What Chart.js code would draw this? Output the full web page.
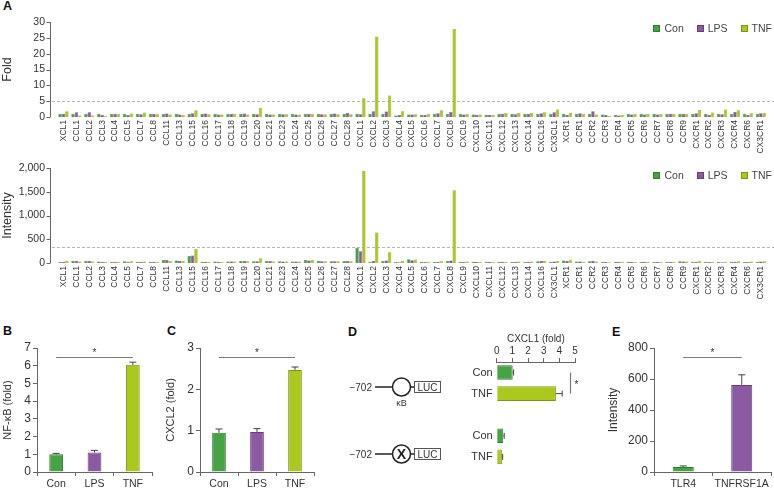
<!DOCTYPE html>
<html>
<head>
<meta charset="utf-8">
<script src="https://cdn.jsdelivr.net/npm/chart.js@4.4.1/dist/chart.umd.min.js"></script>
<style>
  html, body { margin: 0; padding: 0; background: #fff; }
  body { width: 774px; height: 489px; position: relative; overflow: hidden; font-family: "Liberation Sans", Arial, sans-serif; }
  canvas { position: absolute; }
  .panel { position: absolute; font-weight: bold; font-size: 12.5px; line-height: 12px; color: #111; }
  .legend { position: absolute; right: 2px; display: flex; align-items: center; font-size: 10.5px; line-height: 12px; color: #444; }
  .legend .item { display: flex; align-items: center; margin-left: 13px; }
  .legend .box { width: 7px; height: 7px; margin-right: 4px; box-sizing: border-box; border: 1px solid; }
  svg { position: absolute; left: 0; top: 0; }
</style>
</head>
<body>

<div class="panel" style="left:3px;top:0px">A</div>
<div class="panel" style="left:3px;top:325px">B</div>
<div class="panel" style="left:167px;top:325px">C</div>
<div class="panel" style="left:348px;top:326px">D</div>
<div class="panel" style="left:612px;top:326px">E</div>

<canvas id="foldChart" width="774" height="160" style="left:0;top:0"></canvas>
<canvas id="intensityChart" width="774" height="172" style="left:0;top:140px"></canvas>
<canvas id="nfkbChart" width="160" height="169" style="left:0;top:320px"></canvas>
<canvas id="cxcl2Chart" width="160" height="169" style="left:163px;top:320px"></canvas>
<canvas id="lucChart" width="125" height="148" style="left:460px;top:330px"></canvas>
<canvas id="receptorChart" width="169" height="169" style="left:605px;top:320px"></canvas>

<div class="legend" id="legendTop" style="top:22px"></div>
<div class="legend" id="legendBottom" style="top:169px"></div>

<svg width="774" height="489" font-family="Liberation Sans, Arial, sans-serif">
  <g stroke="#222" stroke-width="1.5" fill="#fff">
    <line x1="375" y1="387" x2="392" y2="387"/>
    <circle cx="401.5" cy="387" r="9"/>
    <line x1="410.5" y1="387" x2="414" y2="387"/>
    <line x1="375" y1="454" x2="392" y2="454"/>
    <circle cx="401.5" cy="454" r="9"/>
    <line x1="410.5" y1="454" x2="414" y2="454"/>
  </g>
  <g stroke="#555" stroke-width="1" fill="#fff">
    <rect x="414.5" y="381.5" width="26" height="11"/>
    <rect x="414.5" y="448.5" width="26" height="11"/>
  </g>
  <g fill="#333" font-size="10">
    <text x="372" y="390.5" text-anchor="end">−702</text>
    <text x="372" y="457.5" text-anchor="end">−702</text>
    <text x="427.5" y="391" text-anchor="middle">LUC</text>
    <text x="427.5" y="458" text-anchor="middle">LUC</text>
    <text x="401.5" y="406" text-anchor="middle" font-size="9">κB</text>
    <text x="401.5" y="459" text-anchor="middle" font-size="14" font-weight="bold" fill="#222">X</text>
  </g>
</svg>

<script>
// chemokine array targets
const GENES = ['XCL1', 'CCL1', 'CCL2', 'CCL3', 'CCL4', 'CCL5', 'CCL7', 'CCL8', 'CCL11', 'CCL13',
  'CCL15', 'CCL16', 'CCL17', 'CCL18', 'CCL19', 'CCL20', 'CCL21', 'CCL23', 'CCL24', 'CCL25',
  'CCL26', 'CCL27', 'CCL28', 'CXCL1', 'CXCL2', 'CXCL3', 'CXCL4', 'CXCL5', 'CXCL6', 'CXCL7',
  'CXCL8', 'CXCL9', 'CXCL10', 'CXCL11', 'CXCL12', 'CXCL13', 'CXCL14', 'CXCL16', 'CX3CL1', 'XCR1',
  'CCR1', 'CCR2', 'CCR3', 'CCR4', 'CCR5', 'CCR6', 'CCR7', 'CCR8', 'CCR9', 'CXCR1',
  'CXCR2', 'CXCR3', 'CXCR4', 'CXCR6', 'CX3CR1'];

const FOLD_CON = [1, 1, 1, 1, 1, 1, 1, 1, 1, 1,
  1, 1, 1, 1, 1, 1, 1, 1, 1, 1,
  1, 1, 1, 1, 1, 1, 0.5, 0.8, 0.7, 1,
  1, 1, 0.8, 0.7, 1, 1, 1, 1, 1, 1,
  1, 1, 0.8, 0.6, 1, 1, 1, 1, 1, 1,
  1, 1, 1, 1, 1];
const FOLD_LPS = [1, 1.5, 1.5, 0.6, 1, 0.6, 0.9, 1, 1.1, 0.8,
  1.2, 1.1, 0.8, 1, 1.1, 0.9, 0.8, 0.9, 0.8, 1,
  0.9, 1.1, 1.3, 0.9, 1.8, 1.7, 0.6, 0.8, 0.6, 1.2,
  1.6, 0.8, 0.7, 0.7, 1, 0.9, 1, 1.2, 1.5, 0.7,
  1.2, 1.8, 0.6, 0.5, 0.8, 0.8, 0.8, 1, 1, 1.2,
  0.7, 0.9, 1.6, 0.6, 1.2];
const FOLD_TNF = [1.8, 0.5, 0.5, 0.4, 1, 1.1, 1.4, 1, 0.8, 0.7,
  2.1, 0.9, 0.8, 1, 0.8, 2.9, 0.8, 0.9, 0.8, 1,
  0.9, 0.9, 0.9, 5.9, 25.4, 6.8, 1.8, 0.9, 1, 2.1,
  27.8, 1, 0.8, 0.7, 1.3, 1.3, 1.3, 1.5, 2.4, 1.3,
  1, 0.8, 0.3, 0.6, 1, 1, 1, 1, 1, 2.2,
  1.4, 2.4, 2.1, 1.2, 1.3];

const INT_CON = [25, 45, 45, 30, 25, 35, 25, 25, 65, 55,
  145, 25, 30, 30, 40, 35, 45, 35, 30, 65,
  45, 35, 40, 320, 25, 40, 20, 80, 20, 25,
  40, 25, 25, 25, 25, 25, 25, 35, 25, 55,
  30, 35, 25, 25, 25, 20, 25, 25, 35, 25,
  25, 20, 25, 20, 25];
const INT_LPS = [20, 45, 50, 25, 25, 25, 25, 25, 65, 50,
  160, 25, 25, 30, 40, 35, 40, 30, 30, 55,
  35, 35, 40, 245, 40, 55, 15, 60, 20, 25,
  55, 20, 20, 25, 25, 25, 25, 40, 30, 45,
  30, 45, 20, 25, 20, 20, 20, 25, 30, 25,
  20, 15, 25, 20, 30];
const INT_TNF = [50, 30, 30, 20, 25, 35, 30, 25, 50, 40,
  300, 25, 25, 30, 35, 100, 30, 30, 30, 65,
  35, 35, 35, 1940, 640, 225, 40, 75, 25, 35,
  1530, 30, 25, 25, 25, 30, 30, 45, 40, 70,
  25, 30, 15, 25, 25, 20, 25, 25, 30, 45,
  25, 25, 35, 30, 35];

const FOLD_CUTOFF = 5;
const INT_CUTOFF = 337;

const GROUPS = ['Con', 'LPS', 'TNF'];
const NFKB = [1.0, 1.1, 6.05];
const NFKB_ERR = [0.05, 0.12, 0.15];
const NFKB_SIG = 6.47;

const CXCL2_FOLD = [0.95, 0.97, 2.47];
const CXCL2_ERR = [0.09, 0.08, 0.07];
const CXCL2_SIG = 2.79;

const LUC_LABELS = ['Con', 'TNF', '', 'Con', 'TNF'];
const LUC_FOLD = [1.02, 3.78, null, 0.42, 0.33];
const LUC_ERR = [0.06, 0.4, null, 0.06, 0.05];
const LUC_SIG = 4.7;

const RECEPTORS = ['TLR4', 'TNFRSF1A'];
const RECEPTOR_INT = [33, 562];
const RECEPTOR_ERR = [6, 65];
const RECEPTOR_SIG = 741;

const CON = '#46a343', CON_EDGE = '#2f7d2d';
const LPS = '#8c5aa3', LPS_EDGE = '#673f7d';
const TNF = '#abc81f', TNF_EDGE = '#7e9614';
const AXIS = '#666';
const TEXT = '#333';

Chart.defaults.font.family = '"Liberation Sans", Arial, sans-serif';
Chart.defaults.color = TEXT;
Chart.defaults.animation = false;
Chart.defaults.plugins.legend.display = false;
Chart.defaults.plugins.tooltip.enabled = false;

// legends for panel A
function buildLegend(id) {
  const el = document.getElementById(id);
  const cols = [[CON, CON_EDGE], [LPS, LPS_EDGE], [TNF, TNF_EDGE]];
  GROUPS.forEach((g, i) => {
    const item = document.createElement('div');
    item.className = 'item';
    item.innerHTML = `<span class="box" style="background:${cols[i][0]};border-color:${cols[i][1]}"></span>${g}`;
    el.appendChild(item);
  });
}
buildLegend('legendTop');
buildLegend('legendBottom');

const errorBars = {
  id: 'errorBars',
  afterDatasetsDraw(chart) {
    const ctx = chart.ctx;
    const horiz = chart.options.indexAxis === 'y';
    const vs = horiz ? chart.scales.x : chart.scales.y;
    chart.data.datasets.forEach((ds, di) => {
      if (!ds.errors) return;
      chart.getDatasetMeta(di).data.forEach((bar, i) => {
        const v = ds.data[i], e = ds.errors[i];
        if (v == null || e == null) return;
        const end = vs.getPixelForValue(v + e);
        ctx.save();
        ctx.strokeStyle = '#444';
        ctx.lineWidth = 1;
        ctx.beginPath();
        if (horiz) {
          ctx.moveTo(bar.x, bar.y); ctx.lineTo(end, bar.y);
          ctx.moveTo(end, bar.y - 3); ctx.lineTo(end, bar.y + 3);
        } else {
          ctx.moveTo(bar.x, bar.y); ctx.lineTo(bar.x, end);
          ctx.moveTo(bar.x - 3.5, end); ctx.lineTo(bar.x + 3.5, end);
        }
        ctx.stroke();
        ctx.restore();
      });
    });
  }
};

const sigLine = {
  id: 'sigLine',
  afterDatasetsDraw(chart, args, opts) {
    if (!opts || opts.at == null) return;
    const ctx = chart.ctx;
    const horiz = chart.options.indexAxis === 'y';
    const cat = horiz ? chart.scales.y : chart.scales.x;
    const val = horiz ? chart.scales.x : chart.scales.y;
    const a = cat.getPixelForValue(opts.from);
    const b = cat.getPixelForValue(opts.to);
    const p = Math.round(val.getPixelForValue(opts.at)) + 0.5;
    ctx.save();
    ctx.strokeStyle = '#777';
    ctx.lineWidth = 1.2;
    ctx.beginPath();
    ctx.fillStyle = TEXT;
    ctx.font = '10px "Liberation Sans", Arial';
    if (horiz) {
      ctx.moveTo(p, a); ctx.lineTo(p, b);
      ctx.stroke();
      ctx.textAlign = 'left'; ctx.textBaseline = 'middle';
      ctx.fillText('*', p + 4, (a + b) / 2 + 2);
    } else {
      ctx.moveTo(a, p); ctx.lineTo(b, p);
      ctx.stroke();
      ctx.textAlign = 'center'; ctx.textBaseline = 'bottom';
      ctx.fillText('*', (a + b) / 2, p + 1);
    }
    ctx.restore();
  }
};

const cutoffLine = {
  id: 'cutoffLine',
  beforeDatasetsDraw(chart, args, opts) {
    if (!opts || opts.value == null) return;
    const ctx = chart.ctx;
    const y = Math.round(chart.scales.y.getPixelForValue(opts.value)) + 0.5;
    ctx.save();
    ctx.strokeStyle = '#b5b5b5';
    ctx.lineWidth = 1;
    ctx.setLineDash([3, 2]);
    ctx.beginPath();
    ctx.moveTo(chart.chartArea.left - opts.gap + 2, y);
    ctx.lineTo(chart.width, y);
    ctx.stroke();
    ctx.restore();
  }
};

// y axis drawn a few px left of the first category
const axisGap = {
  id: 'axisGap',
  afterDraw(chart, args, opts) {
    if (!opts || !opts.gap) return;
    const ctx = chart.ctx, ys = chart.scales.y;
    const x = Math.round(chart.chartArea.left - opts.gap) + 0.5;
    ctx.save();
    ctx.strokeStyle = AXIS;
    ctx.lineWidth = 1;
    ctx.beginPath();
    ctx.moveTo(x, ys.getPixelForValue(ys.max));
    ctx.lineTo(x, ys.getPixelForValue(0));
    ys.ticks.forEach(t => {
      const py = Math.round(ys.getPixelForValue(t.value)) + 0.5;
      ctx.moveTo(x - 4, py);
      ctx.lineTo(x, py);
    });
    ctx.stroke();
    ctx.restore();
  }
};

function profileChart(id, con, lps, tnf, yMax, yStep, cutoff, title, padTop, xHeight, fmt) {
  const bar = (label, data, bg, edge) => ({
    label, data, backgroundColor: bg, borderColor: edge, borderWidth: 0.5,
    categoryPercentage: 0.78, barPercentage: 1
  });
  return new Chart(document.getElementById(id), {
    type: 'bar',
    data: {
      labels: GENES,
      datasets: [
        bar('Con', con, CON, CON_EDGE),
        bar('LPS', lps, LPS, LPS_EDGE),
        bar('TNF', tnf, TNF, TNF_EDGE)
      ]
    },
    options: {
      responsive: false,
      layout: { padding: { top: padTop, right: 1, left: 0, bottom: 0 } },
      plugins: {
        cutoffLine: { value: cutoff, gap: 7 },
        axisGap: { gap: 7 }
      },
      scales: {
        x: {
          grid: { display: false, drawTicks: false },
          border: { display: false },
          ticks: { autoSkip: false, minRotation: 90, maxRotation: 90, padding: 3, font: { size: 8.5 }, color: TEXT },
          afterFit: s => { s.height = xHeight; }
        },
        y: {
          min: 0, max: yMax,
          grid: { display: false, drawTicks: false },
          border: { display: false },
          ticks: { stepSize: yStep, padding: 12, font: { size: 10.5 }, color: TEXT, callback: fmt },
          title: { display: true, text: title, font: { size: 12.5 }, color: TEXT, padding: 0 },
          afterFit: s => { s.width = 57; }
        }
      }
    },
    plugins: [cutoffLine, axisGap]
  });
}

profileChart('foldChart', FOLD_CON, FOLD_LPS, FOLD_TNF, 30, 5, FOLD_CUTOFF, 'Fold', 22, 43, v => v);
profileChart('intensityChart', INT_CON, INT_LPS, INT_TNF, 2000, 500, INT_CUTOFF, 'Intensity', 28, 49,
  v => v.toLocaleString('en-US'));

function smallChart(id, labels, values, errors, colors, edges, yMax, yStep, title, titleSize, yWidth, padRight, sig) {
  return new Chart(document.getElementById(id), {
    type: 'bar',
    data: {
      labels,
      datasets: [{
        data: values, errors,
        backgroundColor: colors, borderColor: edges, borderWidth: 1,
        categoryPercentage: 1, barPercentage: 0.36
      }]
    },
    options: {
      responsive: false,
      layout: { padding: { top: 28, right: padRight, left: 0, bottom: 0 } },
      plugins: { sigLine: { from: 0, to: labels.length - 1, at: sig } },
      scales: {
        x: {
          grid: { offset: true, drawOnChartArea: false, tickLength: 4, color: AXIS },
          border: { color: AXIS },
          ticks: { padding: 2, autoSkip: false, minRotation: 0, maxRotation: 0, font: { size: 10.5 }, color: TEXT },
          afterFit: s => { s.height = 17; }
        },
        y: {
          min: 0, max: yMax,
          grid: { drawOnChartArea: false, tickLength: 4, color: AXIS },
          border: { color: AXIS },
          ticks: { stepSize: yStep, padding: 2, font: { size: 12 }, color: TEXT },
          title: { display: true, text: title, font: { size: titleSize }, color: TEXT, padding: { top: 1, bottom: 0 } },
          afterFit: s => { s.width = yWidth; }
        }
      }
    },
    plugins: [errorBars, sigLine]
  });
}

smallChart('nfkbChart', GROUPS, NFKB, NFKB_ERR, [CON, LPS, TNF], [CON_EDGE, LPS_EDGE, TNF_EDGE],
  7, 1, 'NF-κB (fold)', 11, 37, 8, NFKB_SIG);
smallChart('cxcl2Chart', GROUPS, CXCL2_FOLD, CXCL2_ERR, [CON, LPS, TNF], [CON_EDGE, LPS_EDGE, TNF_EDGE],
  3, 1, 'CXCL2 (fold)', 11, 37, 9, CXCL2_SIG);
smallChart('receptorChart', RECEPTORS, RECEPTOR_INT, RECEPTOR_ERR, [CON, LPS], [CON_EDGE, LPS_EDGE],
  800, 200, 'Intensity', 12, 49, 3, RECEPTOR_SIG);

// reporter assay, horizontal bars
new Chart(document.getElementById('lucChart'), {
  type: 'bar',
  data: {
    labels: LUC_LABELS,
    datasets: [{
      data: LUC_FOLD, errors: LUC_ERR,
      backgroundColor: [CON, TNF, TNF, CON, TNF],
      borderColor: [CON_EDGE, TNF_EDGE, TNF_EDGE, CON_EDGE, TNF_EDGE],
      borderWidth: 1,
      categoryPercentage: 1, barPercentage: 0.69
    }]
  },
  options: {
    responsive: false,
    indexAxis: 'y',
    layout: { padding: { top: 0, right: 10, left: 0, bottom: 0 } },
    plugins: { sigLine: { from: 0, to: 1, at: LUC_SIG } },
    scales: {
      x: {
        position: 'top',
        min: 0, max: 5,
        grid: { drawOnChartArea: false, tickLength: 4, color: AXIS },
        border: { color: AXIS },
        ticks: { stepSize: 1, padding: 1, font: { size: 10 }, color: TEXT },
        title: { display: true, text: 'CXCL1 (fold)', font: { size: 10 }, color: TEXT, padding: { top: 3, bottom: 0 } },
        afterFit: s => { s.height = 32; }
      },
      y: {
        grid: { display: false, drawTicks: false },
        border: { display: false },
        ticks: { padding: 4, font: { size: 11 }, color: TEXT },
        afterFit: s => { s.width = 36.7; }
      }
    }
  },
  plugins: [errorBars, sigLine]
});
</script>
</body>
</html>
